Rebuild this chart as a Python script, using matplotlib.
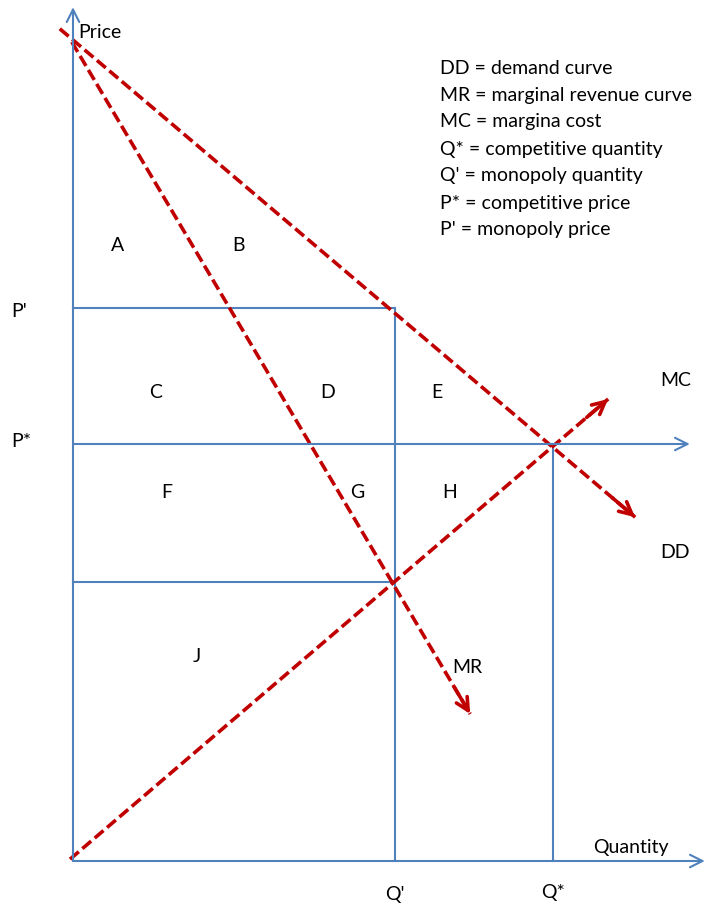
import matplotlib.pyplot as plt

# monopoly vs competition diagram, units: quantity / price
q_mono, q_comp = 5.37, 8.0
p_mono, p_comp, mc_at_qmono = 9.22, 6.95, 4.65
q_axis_end, p_axis_end = 10.53, 14.23
pstar_line_end = 10.28

dd_q = [-0.22, 9.37]
dd_p = [13.87, 5.73]
mr_q = [-0.02, 6.62]
mr_p = [13.65, 2.45]
mc_q = [-0.05, 8.92]
mc_p = [0.03, 7.70]

area_labels = ["A", "B", "C", "D", "E", "F", "G", "H", "J"]
area_q = [0.75, 2.75, 1.37, 4.25, 6.07, 1.57, 4.73, 6.28, 2.07]
area_p = [10.28, 10.28, 7.82, 7.82, 7.82, 6.15, 6.15, 6.15, 3.42]

legend_lines = [
    "DD = demand curve",
    "MR = marginal revenue curve",
    "MC = margina cost",
    "Q* = competitive quantity",
    "Q' = monopoly quantity",
    "P* = competitive price",
    "P' = monopoly price",
]

BLUE = "#4F81BD"
RED = "#C00000"
FONT = "Lato"
FS = 14

W, H = 711, 912
fig = plt.figure(figsize=(W / 100, H / 100), dpi=100)
ax = fig.add_axes([0, 0, 1, 1])
ax.set_xlim(-73 / 60, (W - 73) / 60)
ax.set_ylim((862 - H) / 60, 862 / 60)
ax.axis("off")


def blue_arrow(x0, y0, x1, y1):
    ax.annotate("", xy=(x1, y1), xytext=(x0, y0),
                arrowprops=dict(arrowstyle="->,head_length=0.9,head_width=0.45",
                                color=BLUE, lw=1.5, shrinkA=0, shrinkB=0))


def red_dashed(qs, ps, arrow=True):
    ax.plot(qs, ps, color=RED, lw=2.6, ls=(0, (3.2, 1.3)), solid_capstyle="butt")
    if arrow:
        dq, dp = qs[1] - qs[0], ps[1] - ps[0]
        t = 0.04
        ax.annotate("", xy=(qs[1], ps[1]),
                    xytext=(qs[1] - dq * t, ps[1] - dp * t),
                    arrowprops=dict(arrowstyle="->,head_length=0.9,head_width=0.45",
                                    color=RED, lw=2.6, shrinkA=0, shrinkB=0))


# axes
blue_arrow(0, 0, 0, p_axis_end)
blue_arrow(0, 0, q_axis_end, 0)
blue_arrow(0, p_comp, pstar_line_end, p_comp)

# guide lines
ax.plot([0, q_mono], [p_mono, p_mono], color=BLUE, lw=1.5)
ax.plot([0, q_mono], [mc_at_qmono, mc_at_qmono], color=BLUE, lw=1.5)
ax.plot([q_mono, q_mono], [0, p_mono], color=BLUE, lw=1.5)
ax.plot([q_comp, q_comp], [0, p_comp], color=BLUE, lw=1.5)

# curves
red_dashed(dd_q, dd_p)
red_dashed(mr_q, mr_p)
red_dashed(mc_q, mc_p)

for lab, q, p in zip(area_labels, area_q, area_p):
    ax.text(q, p, lab, ha="center", va="center", fontsize=FS, family=FONT)


def ptext(x, y, s, ha="left"):
    fig.text(x / W, 1 - y / H, s, ha=ha, va="center", fontsize=FS, family=FONT)


ptext(78, 32, "Price")
ptext(593, 848, "Quantity")
ptext(395, 895, "Q'", ha="center")
ptext(553, 893, "Q*", ha="center")
ptext(11, 312, "P'")
ptext(11, 442, "P*")
ptext(660, 380, "MC")
ptext(660, 553, "DD")
ptext(452, 668, "MR")

for i, line in enumerate(legend_lines):
    ptext(440, 68 + 27 * i, line)

fig.savefig("out.png", dpi=100)
